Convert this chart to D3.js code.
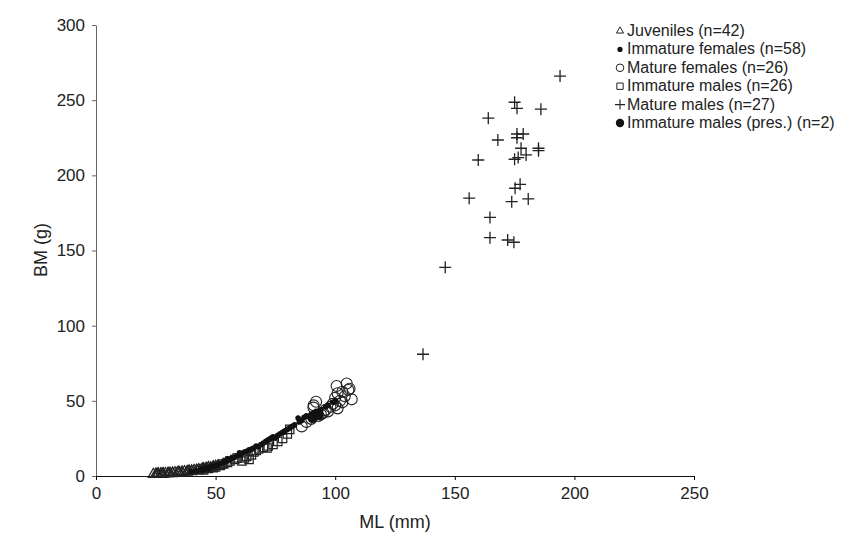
<!DOCTYPE html>
<html>
<head>
<meta charset="utf-8">
<script src="https://cdn.jsdelivr.net/npm/d3@7"></script>
<style>
  body { margin: 0; background: #fff; }
  svg { font-family: "Liberation Sans", Arial, sans-serif; }
</style>
</head>
<body>
<div id="chart"></div>
<script>
// data: [ML (mm), BM (g)]
var juveniles = [[24,0.4],[25,0.5],[25.5,0.6],[26,0.5],[26,0.8],[27,0.7],[27.5,0.6],[28,1.0],[28,0.5],[29,0.9],
  [30,1.0],[30.5,1.2],[31,1.1],[32,1.3],[32,0.9],[33,1.5],[34,1.4],[34.5,1.8],[35,1.6],[36,2.0],
  [36,1.5],[37,2.2],[38,2.0],[38.5,2.6],[39,2.4],[40,2.8],[40,2.2],[41,3.0],[42,3.2],[42.5,2.7],
  [43,3.6],[44,3.4],[44.5,4.0],[45,4.2],[46,4.5],[46.5,3.8],[47,5.0],[48,4.8],[49,5.5],[50,5.8],[51,6.2],[53,6.8]];
var immFemales = [[40,3],[42,3.5],[44,4.5],[45,4],[46,5.5],[47,5],[48,6],[49,6.5],[50,7],[51,7.5],
  [52,8],[53,9],[54,9.5],[55,10],[55,11.5],[56,11],[57,12],[58,12.5],[59,13.5],[60,14],
  [60,15.5],[61,15],[62,16],[63,16.5],[64,17.5],[65,18],[66,18.5],[67,20],[68,19.5],[69,21],
  [70,22],[71,23],[72,24],[73,25],[74,26],[75,25.5],[76,27],[77,28],[78,29],[79,30],
  [80,31],[81,32],[82,33],[83,34],[84.5,38.6],[85,36],[86,37],[87,39],[88,40],[89,39.5],
  [90,41],[91,42],[92,43],[94,44],[96,46],[97,47],[99,49],[100,50]];
var matFemales = [[86,33],[88,36],[90,38],[90.9,45.5],[91,47],[92,49.4],[93,40],[94,41],[95,42],[96,44],
  [97,43],[98,46],[99,48],[100,47],[100,52],[101,45],[100.6,59.9],[102,50],[103,49],[103,56],
  [104,53],[105.5,57.2],[104.8,61.5],[106,58],[106.9,51],[101,55]];
var immMales = [[45,4],[47,5],[49,5.5],[50,6],[52,7],[53,8],[55,9],[56,10],[58,11],[59,12],
  [61,10],[62,12],[63,13],[64,11],[65,14],[66,16],[67,17],[68,18],[70,19],[71.5,18.6],
  [72,20],[74,21],[76,23],[78,25],[80,28],[81,31]];
var matMales = [[194,266],[175,248.6],[176,244.6],[186,244],[164,238],[176,227.5],[178.6,227.5],[176,225],[168,223.5],
  [177.7,218],[185,218],[185,216.4],[179.8,213.6],[176.5,211.8],[175,210.7],[159.8,210.2],[177.3,194],
  [175.2,191.4],[156,184.8],[180.7,184.3],[173.8,182.5],[164.7,172],[164.7,158.5],[172.1,157],[174.7,155.5],
  [146,138.8],[136.7,81]];
var immMalesPres = [[90.5,38.5],[93,40.5]];

var legendLabels = ["Juveniles (n=42)", "Immature females (n=58)", "Mature females (n=26)",
  "Immature males (n=26)", "Mature males (n=27)", "Immature males (pres.) (n=2)"];
var xTicks = [0, 50, 100, 150, 200, 250];
var yTicks = [0, 50, 100, 150, 200, 250, 300];

var width = 850, height = 535;
var svg = d3.select("#chart").append("svg")
  .attr("width", width)
  .attr("height", height);

var x = d3.scaleLinear().domain([0, 250]).range([96, 694]);
var y = d3.scaleLinear().domain([0, 300]).range([476, 25]);

// axes
var yAxis = svg.append("g")
  .attr("transform", "translate(96,0)")
  .call(d3.axisLeft(y).tickValues(yTicks).tickSize(4).tickPadding(7).tickSizeOuter(0));
yAxis.select(".domain").attr("stroke", "#666");
yAxis.selectAll(".tick line").attr("stroke", "#666");

var xAxis = svg.append("g")
  .attr("transform", "translate(0,476)")
  .call(d3.axisBottom(x).tickValues(xTicks).tickSize(4).tickPadding(7).tickSizeOuter(0));
xAxis.select(".domain").attr("stroke", "#111");

svg.selectAll(".tick text")
  .attr("font-size", 17)
  .attr("font-family", "Liberation Sans, Arial, sans-serif")
  .attr("fill", "#222");

svg.append("text")
  .attr("x", 395).attr("y", 528)
  .attr("text-anchor", "middle")
  .attr("font-size", 18).attr("fill", "#222")
  .text("ML (mm)");

svg.append("text")
  .attr("transform", "translate(47,250) rotate(-90)")
  .attr("text-anchor", "middle")
  .attr("font-size", 18).attr("fill", "#222")
  .text("BM (g)");

// symbol drawers
var tri = d3.symbol().type(d3.symbolTriangle).size(48);
var sq = d3.symbol().type(d3.symbolSquare).size(70);
function plusPath(s) { return "M" + (-s) + ",0H" + s + "M0," + (-s) + "V" + s; }

var plot = svg.append("g");

plot.selectAll(".sq").data(immMales).join("path")
  .attr("d", sq)
  .attr("transform", d => "translate(" + x(d[0]) + "," + y(d[1]) + ")")
  .attr("fill", "none").attr("stroke", "#222").attr("stroke-width", 1.2);

plot.selectAll(".tri").data(juveniles).join("path")
  .attr("d", tri)
  .attr("transform", d => "translate(" + x(d[0]) + "," + (y(d[1]) - 1) + ")")
  .attr("fill", "none").attr("stroke", "#222").attr("stroke-width", 1.2);

plot.selectAll(".oc").data(matFemales).join("circle")
  .attr("cx", d => x(d[0])).attr("cy", d => y(d[1])).attr("r", 5.5)
  .attr("fill", "none").attr("stroke", "#222").attr("stroke-width", 1.1);

plot.selectAll(".dot").data(immFemales).join("circle")
  .attr("cx", d => x(d[0])).attr("cy", d => y(d[1])).attr("r", 2.8)
  .attr("fill", "#111");

plot.selectAll(".big").data(immMalesPres).join("circle")
  .attr("cx", d => x(d[0])).attr("cy", d => y(d[1])).attr("r", 5)
  .attr("fill", "#111");

plot.selectAll(".plus").data(matMales).join("path")
  .attr("d", plusPath(6))
  .attr("transform", d => "translate(" + x(d[0]) + "," + y(d[1]) + ")")
  .attr("fill", "none").attr("stroke", "#222").attr("stroke-width", 1.3);

// legend
var legend = svg.append("g").attr("transform", "translate(620,30)");
var rows = legend.selectAll("g").data(legendLabels).join("g")
  .attr("transform", (d, i) => "translate(0," + (i * 18.4) + ")");

rows.append("text")
  .attr("x", 7).attr("y", 6)
  .attr("font-size", 16).attr("fill", "#222")
  .text(d => d);

rows.each(function(d, i) {
  var g = d3.select(this);
  if (i === 0) {
    g.append("path").attr("d", d3.symbol().type(d3.symbolTriangle).size(22))
      .attr("transform", "translate(0,1)")
      .attr("fill", "none").attr("stroke", "#222");
  } else if (i === 1) {
    g.append("circle").attr("r", 2.6).attr("cy", 1).attr("fill", "#111");
  } else if (i === 2) {
    g.append("circle").attr("r", 3.8).attr("cy", 1)
      .attr("fill", "none").attr("stroke", "#222");
  } else if (i === 3) {
    g.append("path").attr("d", d3.symbol().type(d3.symbolSquare).size(40))
      .attr("transform", "translate(0,1)")
      .attr("fill", "none").attr("stroke", "#222");
  } else if (i === 4) {
    g.append("path").attr("d", plusPath(5))
      .attr("transform", "translate(0,1)")
      .attr("fill", "none").attr("stroke", "#222").attr("stroke-width", 1.1);
  } else {
    g.append("circle").attr("r", 4.2).attr("cy", 1).attr("fill", "#111");
  }
});
</script>
</body>
</html>
